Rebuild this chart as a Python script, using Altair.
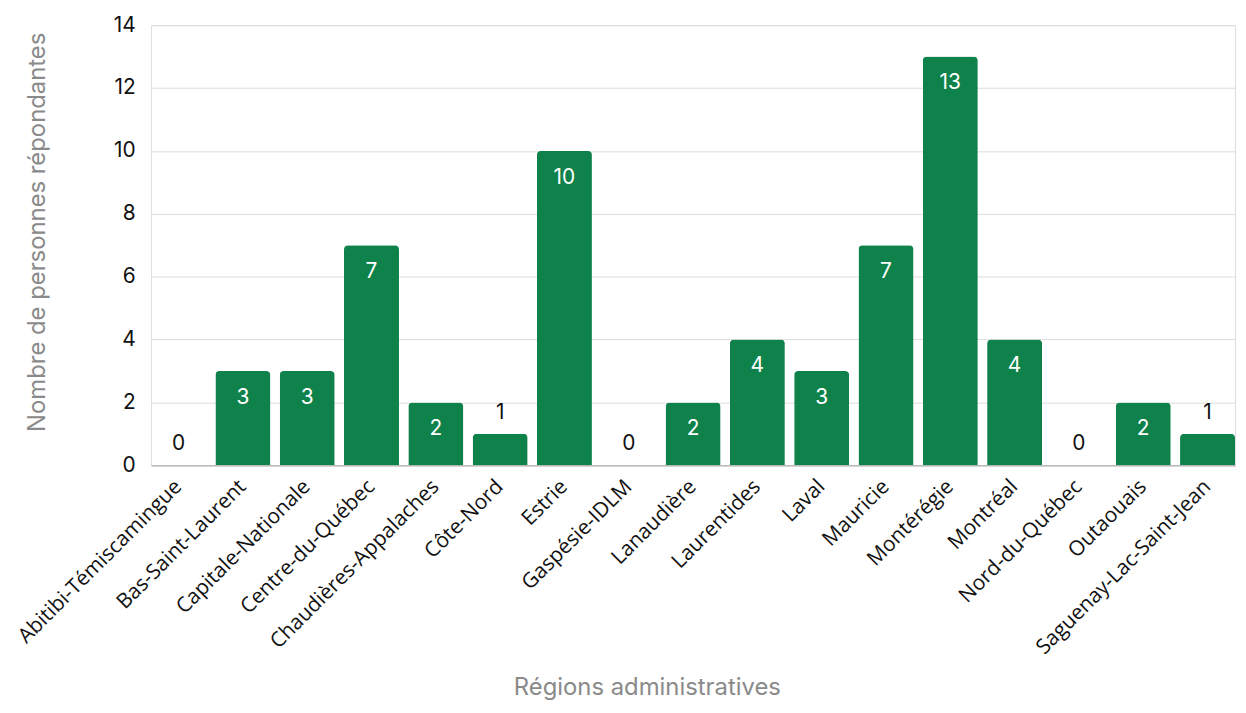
import altair as alt
import pandas as pd

regions = ["Abitibi-Témiscamingue", "Bas-Saint-Laurent", "Capitale-Nationale", "Centre-du-Québec",
           "Chaudières-Appalaches", "Côte-Nord", "Estrie", "Gaspésie-IDLM", "Lanaudière",
           "Laurentides", "Laval", "Mauricie", "Montérégie", "Montréal", "Nord-du-Québec",
           "Outaouais", "Saguenay-Lac-Saint-Jean"]
values = [0, 3, 3, 7, 2, 1, 10, 0, 2, 4, 3, 7, 13, 4, 0, 2, 1]

df = pd.DataFrame({"region": regions, "value": values})

FONT = "Inter"
GREEN = "#0e824a"

x = alt.X("region:N", sort=regions, scale=alt.Scale(paddingInner=0.145, paddingOuter=0),
          axis=alt.Axis(title="Régions administratives", labelAngle=-45, labelAlign="right",
                        labelBaseline="middle", labelFontSize=21, labelFont="Open Sans",
                        labelColor="#111", labelPadding=18, ticks=False, domain=True,
                        domainColor="#bbbbbb", domainWidth=1.5, titleFont=FONT, titleFontSize=24,
                        titleFontWeight="normal", titleColor="#8a8a8a", titleX=499, titleY=224,
                        titleAlign="center", titleBaseline="middle", labelLimit=400))
y = alt.Y("value:Q", scale=alt.Scale(domain=[0, 14]),
          axis=alt.Axis(title="Nombre de personnes répondantes", values=[0, 2, 4, 6, 8, 10, 12, 14],
                        labelFontSize=21, labelFont=FONT, labelColor="#111", labelPadding=16,
                        ticks=False, domain=False, gridColor="#dcdcdc", gridWidth=1,
                        titleFont=FONT, titleFontSize=24, titleFontWeight="normal",
                        titleColor="#8a8a8a", titleAngle=-90, titleX=-114, titleY=208,
                        titleAlign="center", titleBaseline="middle"))

bars = alt.Chart(df).mark_bar(color=GREEN, cornerRadiusTopLeft=4, cornerRadiusTopRight=4).encode(x=x, y=y)

inside = alt.Chart(df).transform_filter("datum.value >= 2").mark_text(
    color="white", fontSize=21, font=FONT, baseline="middle", dy=27).encode(
    x=alt.X("region:N", sort=regions), y="value:Q", text="value:Q")

outside = alt.Chart(df).transform_filter("datum.value < 2").mark_text(
    color="#111", fontSize=21, font=FONT, baseline="middle", dy=-21).encode(
    x=alt.X("region:N", sort=regions), y="value:Q", text="value:Q")

chart = alt.layer(bars, inside, outside).properties(
    width=1091, height=443,
    autosize=alt.AutoSizeParams(type="none"),
    padding={"left": 144, "top": 15, "right": 3, "bottom": 239},
).configure_view(stroke=None).configure(background="white")

chart.save("out.html", embed_options={"renderer": "svg", "actions": False})
